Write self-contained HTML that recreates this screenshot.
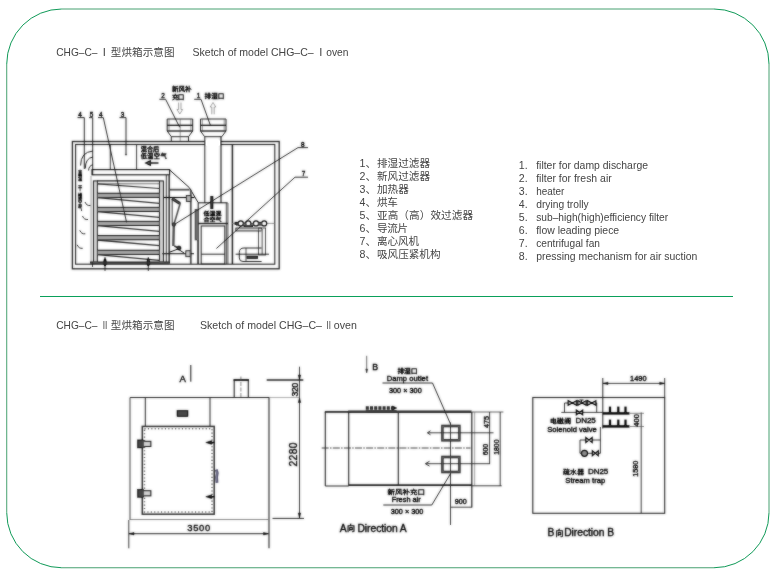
<!DOCTYPE html>
<html lang="zh">
<head>
<meta charset="utf-8">
<title>CHG-C oven sketch</title>
<style>
html,body{margin:0;padding:0;background:#fff;}
body{width:781px;height:577px;overflow:hidden;}
svg{display:block;}
.t{font-family:"Liberation Sans","Noto Sans CJK SC",sans-serif;fill:#444;}
.d{font-family:"Liberation Sans","Noto Sans CJK SC",sans-serif;fill:#1a1a1a;}
.b{font-family:"Liberation Sans","Noto Sans CJK SC",sans-serif;fill:#1a1a1a;stroke:#1a1a1a;stroke-width:0.35;}
</style>
</head>
<body>
<svg width="781" height="577" viewBox="0 0 781 577">
<defs>
<filter id="bl" x="-5%" y="-5%" width="110%" height="110%" color-interpolation-filters="sRGB"><feGaussianBlur stdDeviation="0.8" result="b"/><feComposite in="SourceGraphic" in2="b" operator="arithmetic" k1="0" k2="0.55" k3="0.65" k4="0"/></filter>
<filter id="bt" x="-5%" y="-5%" width="110%" height="110%" color-interpolation-filters="sRGB"><feGaussianBlur stdDeviation="0.8" result="b"/><feComposite in="SourceGraphic" in2="b" operator="arithmetic" k1="0" k2="0.5" k3="0.7" k4="0"/></filter>
</defs>
<rect width="781" height="577" fill="#fff"/>

<path d="M61.72 9.0 H714.0 M769.0 64.0 V512.75 M714.0 567.75 H61.72 M6.72 512.75 V64.0" fill="none" stroke="#18894b" stroke-width="0.8"/><path d="M6.72 64.0 A55 55 0 0 1 61.72 9.0 M714.0 9.0 A55 55 0 0 1 769.0 64.0 M769.0 512.75 A55 55 0 0 1 714.0 567.75 M61.72 567.75 A55 55 0 0 1 6.72 512.75" fill="none" stroke="#109a58" stroke-width="1"/>
<line x1="40" y1="296.5" x2="733" y2="296.5" stroke="#0aa05a" stroke-width="1"/>
<g style="opacity:0.999">
<text class="t" x="56.2" y="56.4" font-size="11.2" textLength="41.3" lengthAdjust="spacingAndGlyphs">CHG–C–</text>
<text class="t" x="102.7" y="56.4" font-size="11.2">I</text>
<text class="t" x="110.8" y="56.199999999999996" font-size="10.6" textLength="63.7">型烘箱示意图</text>
<text class="t" x="192.5" y="56.4" font-size="11.2" textLength="121.19999999999999" lengthAdjust="spacingAndGlyphs">Sketch of model CHG–C–</text>
<text class="t" x="319.3" y="56.4" font-size="11.2">I</text>
<text class="t" x="326.2" y="56.4" font-size="11.2" textLength="22.2" lengthAdjust="spacingAndGlyphs">oven</text>
<text class="t" x="56.2" y="329.3" font-size="11.2" textLength="41.3" lengthAdjust="spacingAndGlyphs">CHG–C–</text>
<text class="t" x="102.8" y="329.3" font-size="11.2" textLength="4.6" lengthAdjust="spacingAndGlyphs">II</text>
<text class="t" x="110.8" y="329.1" font-size="10.6" textLength="63.7">型烘箱示意图</text>
<text class="t" x="200" y="329.3" font-size="11.2" textLength="122" lengthAdjust="spacingAndGlyphs">Sketch of model CHG–C–</text>
<text class="t" x="326.6" y="329.3" font-size="11.2" textLength="4.4" lengthAdjust="spacingAndGlyphs">II</text>
<text class="t" x="333.8" y="329.3" font-size="11.2" textLength="23" lengthAdjust="spacingAndGlyphs">oven</text>
<text class="t" x="359.5" y="166.9" font-size="10.6">1、</text>
<text class="t" x="377" y="166.9" font-size="10.6" textLength="53.0">排湿过滤器</text>
<text class="t" x="359.5" y="179.9" font-size="10.6">2、</text>
<text class="t" x="377" y="179.9" font-size="10.6" textLength="53.0">新风过滤器</text>
<text class="t" x="359.5" y="192.8" font-size="10.6">3、</text>
<text class="t" x="377" y="192.8" font-size="10.6" textLength="31.8">加热器</text>
<text class="t" x="359.5" y="205.8" font-size="10.6">4、</text>
<text class="t" x="377" y="205.8" font-size="10.6" textLength="20.8">烘车</text>
<text class="t" x="359.5" y="218.7" font-size="10.6">5、</text>
<text class="t" x="377" y="218.7" font-size="10.6" textLength="96.0">亚高（高）效过滤器</text>
<text class="t" x="359.5" y="231.7" font-size="10.6">6、</text>
<text class="t" x="377" y="231.7" font-size="10.6" textLength="31.0">导流片</text>
<text class="t" x="359.5" y="244.7" font-size="10.6">7、</text>
<text class="t" x="377" y="244.7" font-size="10.6" textLength="42.2">离心风机</text>
<text class="t" x="359.5" y="257.6" font-size="10.6">8、</text>
<text class="t" x="377" y="257.6" font-size="10.6" textLength="63.5">吸风压紧机构</text>
<text class="t" x="518.8" y="169.2" font-size="10.6">1.</text>
<text class="t" x="536.2" y="169.2" font-size="10.8" textLength="111.8" lengthAdjust="spacingAndGlyphs">filter for damp discharge</text>
<text class="t" x="518.8" y="182.1" font-size="10.6">2.</text>
<text class="t" x="536.2" y="182.1" font-size="10.8" textLength="75.5" lengthAdjust="spacingAndGlyphs">filter for fresh air</text>
<text class="t" x="518.8" y="195.1" font-size="10.6">3.</text>
<text class="t" x="536.2" y="195.1" font-size="10.8" textLength="28.2" lengthAdjust="spacingAndGlyphs">heater</text>
<text class="t" x="518.8" y="208.0" font-size="10.6">4.</text>
<text class="t" x="536.2" y="208.0" font-size="10.8" textLength="52.5" lengthAdjust="spacingAndGlyphs">drying trolly</text>
<text class="t" x="518.8" y="220.9" font-size="10.6">5.</text>
<text class="t" x="536.2" y="220.9" font-size="10.8" textLength="132.0" lengthAdjust="spacingAndGlyphs">sub–high(high)efficiency filter</text>
<text class="t" x="518.8" y="233.8" font-size="10.6">6.</text>
<text class="t" x="536.2" y="233.8" font-size="10.8" textLength="83.0" lengthAdjust="spacingAndGlyphs">flow leading piece</text>
<text class="t" x="518.8" y="246.8" font-size="10.6">7.</text>
<text class="t" x="536.2" y="246.8" font-size="10.8" textLength="63.8" lengthAdjust="spacingAndGlyphs">centrifugal fan</text>
<text class="t" x="518.8" y="259.7" font-size="10.6">8.</text>
<text class="t" x="536.2" y="259.7" font-size="10.8" textLength="161.2" lengthAdjust="spacingAndGlyphs">pressing mechanism for air suction</text>
</g>
<g filter="url(#bl)" stroke-linecap="butt">
<rect x="72.4" y="141.5" width="206.8" height="127.3" stroke="#3c3c3c" stroke-width="1.3" fill="none" />
<rect x="75.6" y="144.5" width="199.2" height="119.7" stroke="#3c3c3c" stroke-width="1.1" fill="none" />
<path d="M167.2 131 V119 H192.7 V131" stroke="#3c3c3c" stroke-width="1" fill="none" />
<line x1="167.2" y1="125.3" x2="192.7" y2="125.3" stroke="#2a2a2a" stroke-width="1.3" />
<line x1="167.2" y1="131" x2="192.7" y2="131" stroke="#2a2a2a" stroke-width="1.3" />
<line x1="169.0" y1="119" x2="169.0" y2="131" stroke="#666" stroke-width="0.6" />
<line x1="190.89999999999998" y1="119" x2="190.89999999999998" y2="131" stroke="#666" stroke-width="0.6" />
<path d="M167.2 131 L171.3 136.7 M192.7 131 L188.5 136.7" stroke="#3c3c3c" stroke-width="1" fill="none" />
<line x1="171.3" y1="136.7" x2="188.5" y2="136.7" stroke="#3c3c3c" stroke-width="1" />
<path d="M200.5 131 V119 H226 V131" stroke="#3c3c3c" stroke-width="1" fill="none" />
<line x1="200.5" y1="125.3" x2="226" y2="125.3" stroke="#2a2a2a" stroke-width="1.3" />
<line x1="200.5" y1="131" x2="226" y2="131" stroke="#2a2a2a" stroke-width="1.3" />
<line x1="202.3" y1="119" x2="202.3" y2="131" stroke="#666" stroke-width="0.6" />
<line x1="224.2" y1="119" x2="224.2" y2="131" stroke="#666" stroke-width="0.6" />
<path d="M200.5 131 L204.6 136.7 M226 131 L221.8 136.7" stroke="#3c3c3c" stroke-width="1" fill="none" />
<line x1="204.6" y1="136.7" x2="221.8" y2="136.7" stroke="#3c3c3c" stroke-width="1" />
<line x1="171.3" y1="136.7" x2="171.3" y2="141.5" stroke="#3c3c3c" stroke-width="1" />
<line x1="188.5" y1="136.7" x2="188.5" y2="141.5" stroke="#3c3c3c" stroke-width="1" />
<line x1="180.2" y1="119" x2="180.2" y2="141" stroke="#666" stroke-width="0.6" />
<rect x="205.3" y="139.5" width="15.2" height="7" stroke="none" stroke-width="0" fill="#fff" />
<line x1="204.8" y1="136.7" x2="204.8" y2="203" stroke="#3c3c3c" stroke-width="1" />
<line x1="221" y1="136.7" x2="221" y2="203" stroke="#2a2a2a" stroke-width="1.1" />
<line x1="110.3" y1="145" x2="110.3" y2="169.5" stroke="#3c3c3c" stroke-width="0.9" />
<line x1="136.6" y1="145" x2="136.6" y2="169.5" stroke="#3c3c3c" stroke-width="0.9" />
<line x1="232.4" y1="145" x2="232.4" y2="264" stroke="#3c3c3c" stroke-width="1.5" />
<line x1="227.9" y1="203" x2="227.9" y2="264" stroke="#3c3c3c" stroke-width="0.8" />
<line x1="226.3" y1="203" x2="226.3" y2="264" stroke="#3c3c3c" stroke-width="0.8" />
<rect x="92" y="169.6" width="77.6" height="5.2" stroke="#2a2a2a" stroke-width="1.1" fill="none" />
<line x1="91" y1="176" x2="91" y2="262" stroke="#888" stroke-width="0.7" />
<rect x="93.4" y="180.9" width="3.9" height="81" stroke="#333" stroke-width="0.9" fill="#b5b5b5" />
<rect x="159.4" y="180.9" width="4" height="81" stroke="#333" stroke-width="0.9" fill="#b5b5b5" />
<line x1="97" y1="180.9" x2="159.5" y2="180.9" stroke="#333" stroke-width="1.2" />
<line x1="97.4" y1="183.8" x2="159.3" y2="183.8" stroke="#666" stroke-width="0.8" />
<line x1="97.4" y1="183.8" x2="159.3" y2="188.5" stroke="#444" stroke-width="1.2" />
<line x1="166.3" y1="175" x2="166.3" y2="262" stroke="#3c3c3c" stroke-width="0.9" />
<line x1="169.2" y1="175" x2="169.2" y2="262" stroke="#555" stroke-width="1.6" />
<rect x="97.4" y="193.20000000000002" width="61.9" height="4.2" stroke="#333" stroke-width="0.9" fill="#8c8c8c" />
<line x1="97.4" y1="197.60000000000002" x2="159.3" y2="203.3" stroke="#444" stroke-width="1.3" />
<rect x="97.4" y="207.3" width="61.9" height="4.2" stroke="#333" stroke-width="0.9" fill="#8c8c8c" />
<line x1="97.4" y1="211.70000000000002" x2="159.3" y2="217.4" stroke="#444" stroke-width="1.3" />
<rect x="97.4" y="221.3" width="61.9" height="4.2" stroke="#333" stroke-width="0.9" fill="#8c8c8c" />
<line x1="97.4" y1="225.70000000000002" x2="159.3" y2="231.4" stroke="#444" stroke-width="1.3" />
<rect x="97.4" y="235.6" width="61.9" height="4.2" stroke="#333" stroke-width="0.9" fill="#8c8c8c" />
<line x1="97.4" y1="240.0" x2="159.3" y2="245.7" stroke="#444" stroke-width="1.3" />
<rect x="97.4" y="250.20000000000002" width="61.9" height="4.2" stroke="#333" stroke-width="0.9" fill="#8c8c8c" />
<line x1="97.4" y1="254.60000000000002" x2="159.3" y2="260.3" stroke="#444" stroke-width="1.3" />
<line x1="90" y1="262.6" x2="170" y2="262.6" stroke="#444" stroke-width="2.2" />
<ellipse cx="105" cy="262.3" rx="1.5" ry="4" fill="#222"/>
<line x1="105" y1="257" x2="105" y2="271" stroke="#2a2a2a" stroke-width="0.8" />
<ellipse cx="148.3" cy="262.3" rx="1.5" ry="4" fill="#222"/>
<line x1="148.3" y1="257" x2="148.3" y2="271" stroke="#2a2a2a" stroke-width="0.8" />
<line x1="92.5" y1="262" x2="92.5" y2="267" stroke="#2a2a2a" stroke-width="0.8" />
<path d="M80.6 165.5 Q80.6 152 93 151" stroke="#3c3c3c" stroke-width="1" fill="none" />
<path d="M85.3 168.5 Q85.3 158 93 157" stroke="#3c3c3c" stroke-width="1" fill="none" />
<path d="M88.6 170.5 Q88.8 165.5 93 164.8" stroke="#3c3c3c" stroke-width="1" fill="none" />
<path d="M85.0 202.0 Q86.5 206.0 90.5 205.5" stroke="#3c3c3c" stroke-width="1" fill="none" />
<path d="M82.5 216.0 Q84 220.0 88 219.5" stroke="#3c3c3c" stroke-width="1" fill="none" />
<path d="M79.8 230.3 Q81.3 234.3 85.3 233.8" stroke="#3c3c3c" stroke-width="1" fill="none" />
<path d="M77.2 244.8 Q78.7 248.8 82.7 248.3" stroke="#3c3c3c" stroke-width="1" fill="none" />
<path d="M169.6 169.9 L189.3 187.6 L198.2 202.7" stroke="#2a2a2a" stroke-width="1" fill="none" />
<line x1="169.6" y1="189.7" x2="189.6" y2="189.7" stroke="#666" stroke-width="1.8" />
<line x1="190.8" y1="189.7" x2="190.8" y2="264" stroke="#666" stroke-width="1.8" />
<line x1="163.8" y1="197.5" x2="194.5" y2="197.5" stroke="#222" stroke-width="1.1" />
<rect x="186.3" y="195.5" width="4.5" height="6" stroke="#3c3c3c" stroke-width="0.8" fill="#999" />
<path d="M172 198.5 L180 203.5" stroke="#444" stroke-width="3" fill="none" />
<line x1="172.2" y1="200" x2="172.2" y2="224" stroke="#3c3c3c" stroke-width="0.9" />
<path d="M173.8 224.6 L173.3 246" stroke="#666" stroke-width="2.4" fill="none" />
<path d="M180.3 203 L174.2 223.5" stroke="#666" stroke-width="1.6" fill="none" />
<path d="M174.3 246 L178.5 248" stroke="#444" stroke-width="1.4" fill="none" />
<circle cx="173.8" cy="224.6" r="1.8" stroke="#2a2a2a" stroke-width="0.5" fill="#444"/>
<circle cx="179" cy="248" r="2.1" stroke="#2a2a2a" stroke-width="0.5" fill="#333"/>
<path d="M170 252 L178 249 L184 253" stroke="#2a2a2a" stroke-width="1" fill="none" />
<line x1="162" y1="253.7" x2="194" y2="253.7" stroke="#333" stroke-width="1.1" />
<rect x="185.8" y="250.7" width="4.2" height="6" stroke="#3c3c3c" stroke-width="0.8" fill="#aaa" />
<line x1="196.1" y1="209" x2="196.1" y2="240.3" stroke="#666" stroke-width="2.8" />
<line x1="197.8" y1="240" x2="197.8" y2="264" stroke="#3c3c3c" stroke-width="0.8" />
<path d="M198.2 264 V202.8 H227.6" stroke="#2a2a2a" stroke-width="1" fill="none" />
<line x1="198.2" y1="223.5" x2="228" y2="223.5" stroke="#3c3c3c" stroke-width="1.4" />
<rect x="201.2" y="226" width="23.6" height="38" stroke="#3c3c3c" stroke-width="1" fill="none" />
<line x1="201.2" y1="254.2" x2="224.8" y2="254.2" stroke="#3c3c3c" stroke-width="1" />
<line x1="211.8" y1="196" x2="211.8" y2="209" stroke="#333" stroke-width="3" />
<line x1="232" y1="223.4" x2="274.5" y2="223.4" stroke="#888" stroke-width="0.8" />
<line x1="236" y1="224.6" x2="266" y2="224.6" stroke="#666" stroke-width="2.2" />
<circle cx="240.8" cy="223.4" r="2.5" stroke="#2a2a2a" stroke-width="1.2" fill="#ddd"/>
<circle cx="248.3" cy="223.4" r="2.5" stroke="#2a2a2a" stroke-width="1.2" fill="#ddd"/>
<circle cx="256" cy="223.4" r="2.5" stroke="#2a2a2a" stroke-width="1.2" fill="#ddd"/>
<circle cx="264.2" cy="223.4" r="2.5" stroke="#2a2a2a" stroke-width="1.2" fill="#ddd"/>
<line x1="234.6" y1="223.4" x2="238" y2="223.4" stroke="#333" stroke-width="3" />
<line x1="243.6" y1="226" x2="253" y2="226" stroke="#333" stroke-width="2" />
<line x1="258.6" y1="223.4" x2="261.5" y2="223.4" stroke="#444" stroke-width="3" />
<rect x="235.8" y="228" width="25.6" height="3" stroke="#3c3c3c" stroke-width="0.8" fill="#bbb" />
<rect x="258.6" y="228" width="7" height="27" stroke="#3c3c3c" stroke-width="0.8" fill="none" />
<line x1="262.2" y1="229" x2="262.2" y2="255" stroke="#999" stroke-width="1.6" />
<path d="M261.6 248 H244 Q239.3 248 239.3 252.5 V258 Q239.3 261.5 243 261.5 H261.6" stroke="#3c3c3c" stroke-width="1" fill="none" />
<line x1="246" y1="248" x2="246" y2="261" stroke="#3c3c3c" stroke-width="0.8" />
<line x1="235.6" y1="254.2" x2="269" y2="254.2" stroke="#2a2a2a" stroke-width="0.9" />
<line x1="246.5" y1="257.3" x2="258" y2="257.3" stroke="#3a3a3a" stroke-width="3.2" />
<path d="M77.5 117.6 H84.3 V169" stroke="#2a2a2a" stroke-width="0.9" fill="none" />
<path d="M89 117.6 H92.7 V175" stroke="#2a2a2a" stroke-width="0.9" fill="none" />
<path d="M98 117.6 H103.3 L126.6 222.5" stroke="#2a2a2a" stroke-width="0.9" fill="none" />
<path d="M119.5 117.6 H126 V154.3" stroke="#2a2a2a" stroke-width="0.9" fill="none" />
<circle cx="126" cy="154.6" r="0.7" stroke="#2a2a2a" stroke-width="0.3" fill="#2a2a2a"/>
<path d="M159.4 99.3 H165.6 L179.7 127.3" stroke="#2a2a2a" stroke-width="0.9" fill="none" />
<path d="M194.2 99.3 H201 L210.4 125.3" stroke="#2a2a2a" stroke-width="0.9" fill="none" />
<path d="M308 147.6 H298 L174.5 224.4" stroke="#2a2a2a" stroke-width="0.9" fill="none" />
<path d="M308 177.2 H295 L216.4 248.5" stroke="#2a2a2a" stroke-width="0.9" fill="none" />
<path d="M178.6 102.5 V109.5 H177 L179.8 114 L182.6 109.5 H181 V102.5" stroke="#888" stroke-width="0.7" fill="none" />
<path d="M211.8 114.3 V107 H210.2 L213 102.5 L215.8 107 H214.2 V114.3" stroke="#888" stroke-width="0.7" fill="none" />
<path d="M158.5 163 H149 M150.3 160.8 L145.8 163 L150.3 165.2 Z" stroke="#333" stroke-width="1.3" fill="#555" />
</g>
<g filter="url(#bt)">
<text class="b" x="78.2" y="116.6" font-size="6.4" >4</text>
<text class="b" x="89.7" y="116.6" font-size="6.4" >5</text>
<text class="b" x="99" y="116.6" font-size="6.4" >4</text>
<text class="b" x="120.7" y="116.6" font-size="6.4" >3</text>
<text class="b" x="161.2" y="98.3" font-size="6.4" >2</text>
<text class="b" x="196.7" y="98.3" font-size="6.4" >1</text>
<text class="b" x="301" y="146.7" font-size="6.4" >8</text>
<text class="b" x="301.7" y="175.6" font-size="6.4" >7</text>
<text class="b" font-size="6.6" stroke-width="0.4" transform="translate(171.9 90.6) scale(1 0.8)" textLength="19.7">新风补</text>
<text class="b" font-size="6.6" stroke-width="0.4" transform="translate(171.9 98.9) scale(1 0.8)" textLength="12.5">充口</text>
<text class="b" font-size="6.6" stroke-width="0.4" transform="translate(204.6 98.4) scale(1 0.8)" textLength="19.8">排湿口</text>
<text class="b" font-size="6.2" stroke-width="0.3" transform="translate(140.8 151.3) scale(1 0.85)" textLength="18.5">混合后</text>
<text class="b" font-size="6.2" stroke-width="0.3" transform="translate(140.8 158.3) scale(1 0.85)" textLength="25.8">低温空气</text>
<text class="b" font-size="6" stroke-width="0.4" transform="translate(203.5 214.8) scale(1 0.85)">低温混</text>
<text class="b" font-size="6" stroke-width="0.4" transform="translate(203.5 221.4) scale(1 0.85)">合空气</text>
<text class="b" font-size="5.8" stroke-width="0.6" transform="translate(77.9 174.6) scale(0.72 0.9)">高</text>
<text class="b" font-size="5.8" stroke-width="0.6" transform="translate(77.9 180.2) scale(0.72 0.9)">温</text>
<text class="b" font-size="5.8" stroke-width="0.6" transform="translate(77.9 189.6) scale(0.72 0.9)">干</text>
<text class="b" font-size="5.8" stroke-width="0.6" transform="translate(77.9 198.1) scale(0.72 0.9)">燥</text>
<text class="b" font-size="5.8" stroke-width="0.6" transform="translate(77.9 204.1) scale(0.72 0.9)">空</text>
<text class="b" font-size="5.8" stroke-width="0.6" transform="translate(77.9 209.79999999999998) scale(0.72 0.9)">气</text>
</g>
<g filter="url(#bl)" stroke-linecap="butt">
<path d="M130 397.5 H269 V548.3" stroke="#3c3c3c" stroke-width="1.1" fill="none" />
<line x1="130" y1="397.5" x2="130" y2="520" stroke="#666" stroke-width="1.1" />
<line x1="130" y1="519.5" x2="269" y2="519.5" stroke="#888" stroke-width="0.9" />
<line x1="128.8" y1="520" x2="128.8" y2="548.3" stroke="#3c3c3c" stroke-width="0.9" />
<line x1="145.3" y1="397.5" x2="145.3" y2="426" stroke="#3c3c3c" stroke-width="1" />
<line x1="210" y1="397.5" x2="210" y2="426" stroke="#3c3c3c" stroke-width="1" />
<rect x="142.3" y="426.4" width="71.9" height="87.8" stroke="#4a4a4a" stroke-width="1.5" fill="none" />
<rect x="144.5" y="428.7" width="67.5" height="83.2" stroke="#777" stroke-width="1.5" fill="none" stroke-dasharray="1.1 2.3"/>
<rect x="177" y="410.3" width="11" height="6.4" stroke="#2a2a2a" stroke-width="0.5" fill="#3a3a3a" />
<line x1="190.8" y1="365" x2="190.8" y2="381.7" stroke="#2a2a2a" stroke-width="1" />
<path d="M234.2 397.5 V380 H248.3 V397.5" stroke="#3c3c3c" stroke-width="1.1" fill="none" />
<line x1="233.5" y1="380" x2="249" y2="380" stroke="#2a2a2a" stroke-width="1.6" />
<line x1="240.9" y1="376.5" x2="240.9" y2="397.5" stroke="#666" stroke-width="0.7" stroke-dasharray="4 1.5"/>
<line x1="266.7" y1="380" x2="303.3" y2="380" stroke="#3c3c3c" stroke-width="1.4" />
<line x1="299.5" y1="366.7" x2="299.5" y2="518" stroke="#3c3c3c" stroke-width="0.9" />
<line x1="269.7" y1="397.5" x2="300" y2="397.5" stroke="#888" stroke-width="0.6" />
<line x1="272.5" y1="518.4" x2="304" y2="518.4" stroke="#3c3c3c" stroke-width="1" />
<path d="M299.5 518 L298.3 513 L300.7 513 Z" stroke="#2a2a2a" stroke-width="0.5" fill="#2a2a2a" />
<path d="M299.5 397.5 L298.3 402.5 L300.7 402.5 Z" stroke="#2a2a2a" stroke-width="0.5" fill="#2a2a2a" />
<path d="M299.5 380 L298.3 375 L300.7 375 Z" stroke="#2a2a2a" stroke-width="0.5" fill="#2a2a2a" />
<rect x="137.5" y="439.9" width="5.8" height="8" stroke="#2a2a2a" stroke-width="0.5" fill="#3a3a3a" />
<rect x="143.3" y="441.29999999999995" width="7.6" height="5.2" stroke="#3c3c3c" stroke-width="1" fill="#b0b0b0" />
<rect x="137.5" y="489.3" width="5.8" height="8" stroke="#2a2a2a" stroke-width="0.5" fill="#3a3a3a" />
<rect x="143.3" y="490.7" width="7.6" height="5.2" stroke="#3c3c3c" stroke-width="1" fill="#b0b0b0" />
<path d="M205.8 442.5 L211.5 440.7 L211.5 444.3 Z" stroke="#2a2a2a" stroke-width="0.6" fill="#222" />
<line x1="211" y1="442.5" x2="214.5" y2="442.5" stroke="#222" stroke-width="1.4" />
<path d="M205.8 496.7 L211.5 494.9 L211.5 498.5 Z" stroke="#2a2a2a" stroke-width="0.6" fill="#222" />
<line x1="211" y1="496.7" x2="214.5" y2="496.7" stroke="#222" stroke-width="1.4" />
<path d="M216.3 469.5 L217.3 473 L216.6 477 L217 482.8" stroke="#707088" stroke-width="2.8" fill="none" />
<line x1="128.8" y1="533.7" x2="268.5" y2="533.7" stroke="#3c3c3c" stroke-width="1" />
<path d="M129 533.7 L134 532.5 L134 534.9 Z" stroke="#2a2a2a" stroke-width="0.5" fill="#2a2a2a" />
<path d="M268.5 533.7 L263.5 532.5 L263.5 534.9 Z" stroke="#2a2a2a" stroke-width="0.5" fill="#2a2a2a" />
<line x1="324.8" y1="411.9" x2="349" y2="411.9" stroke="#4a4a4a" stroke-width="1.9" />
<line x1="348.2" y1="411.8" x2="471.6" y2="411.8" stroke="#4a4a4a" stroke-width="2.6" />
<line x1="471.6" y1="412" x2="503.4" y2="412" stroke="#666" stroke-width="0.9" />
<line x1="325.3" y1="412" x2="325.3" y2="486" stroke="#3c3c3c" stroke-width="1.1" />
<line x1="325.3" y1="486" x2="348.7" y2="486" stroke="#3c3c3c" stroke-width="1" />
<line x1="348.7" y1="485.2" x2="472" y2="485.2" stroke="#3c3c3c" stroke-width="1.8" />
<line x1="348.7" y1="412" x2="348.7" y2="486" stroke="#3c3c3c" stroke-width="1.1" />
<line x1="398.3" y1="412" x2="398.3" y2="486" stroke="#3c3c3c" stroke-width="1.1" />
<line x1="471.8" y1="412" x2="471.8" y2="507.5" stroke="#3c3c3c" stroke-width="1.2" />
<line x1="474.7" y1="412" x2="474.7" y2="485.5" stroke="#888" stroke-width="0.7" />
<line x1="321.7" y1="448" x2="470.5" y2="448" stroke="#444" stroke-width="0.9" stroke-dasharray="7 1.3 1.5 1.3"/>
<line x1="366.7" y1="355.8" x2="366.7" y2="372.5" stroke="#555" stroke-width="0.8" />
<path d="M366.7 373 L365.7 369 L367.7 369 Z" stroke="#444" stroke-width="0.4" fill="#444" />
<path d="M382.5 383 H432.5 L450.5 424" stroke="#2a2a2a" stroke-width="0.9" fill="none" />
<line x1="365.8" y1="408" x2="393" y2="408" stroke="#444" stroke-width="3.6" stroke-dasharray="3 1.2"/>
<line x1="365.8" y1="411" x2="396.7" y2="411" stroke="#2a2a2a" stroke-width="1" />
<path d="M396.7 408 L392.5 406 L392.5 410 Z" stroke="#2a2a2a" stroke-width="0.6" fill="#2a2a2a" />
<rect x="442.4" y="426" width="17" height="14.3" stroke="#555" stroke-width="2.6" fill="none" />
<rect x="442.4" y="457" width="17" height="15" stroke="#555" stroke-width="2.6" fill="none" />
<line x1="450.5" y1="422.4" x2="450.5" y2="525" stroke="#3c3c3c" stroke-width="0.9" />
<line x1="428" y1="432.8" x2="493.5" y2="432.8" stroke="#3c3c3c" stroke-width="0.9" />
<line x1="426" y1="463.7" x2="490" y2="463.7" stroke="#3c3c3c" stroke-width="0.9" />
<path d="M430.5 430.8 L427.3 432.8 L430.5 434.8" stroke="#3c3c3c" stroke-width="0.9" fill="none" />
<path d="M429.5 461.3 L425.3 463.7 L429.5 466.1" stroke="#3c3c3c" stroke-width="0.9" fill="none" />
<line x1="489.6" y1="412" x2="489.6" y2="464" stroke="#3c3c3c" stroke-width="0.9" />
<line x1="500.2" y1="412" x2="500.2" y2="486" stroke="#3c3c3c" stroke-width="0.9" />
<line x1="472" y1="485.8" x2="501.7" y2="485.8" stroke="#3c3c3c" stroke-width="0.9" />
<line x1="450.5" y1="507.2" x2="471.8" y2="507.2" stroke="#3c3c3c" stroke-width="0.9" />
<path d="M383.3 505 H431.8 L450.3 474" stroke="#2a2a2a" stroke-width="0.9" fill="none" />
<rect x="532.8" y="397.5" width="131.9" height="115.8" stroke="#3c3c3c" stroke-width="1.1" fill="none" />
<line x1="602.8" y1="378" x2="602.8" y2="428.5" stroke="#3c3c3c" stroke-width="1" />
<line x1="602.8" y1="383.4" x2="664.7" y2="383.4" stroke="#3c3c3c" stroke-width="0.9" />
<line x1="664.7" y1="378" x2="664.7" y2="397.5" stroke="#3c3c3c" stroke-width="0.9" />
<path d="M603 383.4 L608 382.2 L608 384.6 Z" stroke="#2a2a2a" stroke-width="0.5" fill="#2a2a2a" />
<path d="M664.7 383.4 L659.7 382.2 L659.7 384.6 Z" stroke="#2a2a2a" stroke-width="0.5" fill="#2a2a2a" />
<line x1="641.2" y1="412.5" x2="641.2" y2="513" stroke="#3c3c3c" stroke-width="0.9" />
<line x1="630" y1="413.3" x2="644" y2="413.3" stroke="#666" stroke-width="0.7" />
<line x1="630" y1="426.5" x2="644" y2="426.5" stroke="#666" stroke-width="0.7" />
<path d="M564.5 412.4 V403 H596.7 V412.4" stroke="#3c3c3c" stroke-width="0.9" fill="none" />
<line x1="561.3" y1="412.4" x2="602.8" y2="412.4" stroke="#3c3c3c" stroke-width="0.9" />
<path d="M568.0999999999999 400.6 L576.5 405.4 V400.6 L568.0999999999999 405.4 Z" stroke="#222" stroke-width="1.1" fill="#999" />
<path d="M577.8 400.6 L586.2 405.4 V400.6 L577.8 405.4 Z" stroke="#222" stroke-width="1.1" fill="#999" />
<path d="M587.5 400.6 L595.9000000000001 405.4 V400.6 L587.5 405.4 Z" stroke="#222" stroke-width="1.1" fill="#999" />
<line x1="581.5" y1="400" x2="581.5" y2="403" stroke="#2a2a2a" stroke-width="0.9" />
<line x1="579.5" y1="400" x2="583.5" y2="400" stroke="#2a2a2a" stroke-width="0.9" />
<path d="M576.3 410.0 L582.7 414.79999999999995 V410.0 L576.3 414.79999999999995 Z" stroke="#222" stroke-width="1.1" fill="#999" />
<line x1="602.8" y1="413.4" x2="629.5" y2="413.4" stroke="#222" stroke-width="2.4" />
<line x1="610" y1="406.59999999999997" x2="610" y2="413.4" stroke="#222" stroke-width="2.2" />
<line x1="618.3" y1="406.59999999999997" x2="618.3" y2="413.4" stroke="#222" stroke-width="2.2" />
<line x1="625.5" y1="406.59999999999997" x2="625.5" y2="413.4" stroke="#222" stroke-width="2.2" />
<line x1="602.8" y1="426.4" x2="629.5" y2="426.4" stroke="#222" stroke-width="2.4" />
<line x1="610" y1="419.59999999999997" x2="610" y2="426.4" stroke="#222" stroke-width="2.2" />
<line x1="618.3" y1="419.59999999999997" x2="618.3" y2="426.4" stroke="#222" stroke-width="2.2" />
<line x1="625.5" y1="419.59999999999997" x2="625.5" y2="426.4" stroke="#222" stroke-width="2.2" />
<path d="M600.4 427 V453.3 H580 V440 H600.4" stroke="#3c3c3c" stroke-width="0.9" fill="none" />
<path d="M585.8 437.4 L592.2 442.6 V437.4 L585.8 442.6 Z" stroke="#222" stroke-width="1.1" fill="#999" />
<path d="M592.3 450.7 L598.3 455.90000000000003 V450.7 L592.3 455.90000000000003 Z" stroke="#222" stroke-width="1.1" fill="#999" />
<circle cx="584.5" cy="453.3" r="3" stroke="#2a2a2a" stroke-width="1.2" fill="#777"/>
</g>
<g filter="url(#bt)">
<text class="b" x="179.6" y="382.4" font-size="9.6" stroke-width="0.5">A</text>
<text class="b" x="372.3" y="369.6" font-size="8.8" >B</text>
<text class="b" x="187.2" y="531.4" font-size="9.4" textLength="23" stroke-width="0.5">3500</text>
<text class="b" stroke-width="0.6" font-size="8.6" transform="translate(298 396.5) rotate(-90)" textLength="13.8">320</text>
<text class="b" stroke-width="0.7" font-size="10.3" transform="translate(296.8 466.5) rotate(-90)" textLength="24">2280</text>
<text class="b" font-size="6.8" stroke-width="0.4" transform="translate(397.5 372.6) scale(1 0.82)" textLength="20">排湿口</text>
<text class="b" x="386.7" y="380.8" font-size="7.6" textLength="41.3" >Damp outlet</text>
<text class="b" x="389" y="392.6" font-size="7.3" textLength="32.7" >300 × 300</text>
<text class="b" font-size="7.5" stroke-width="0.4" transform="translate(387.5 494) scale(1 0.8)" textLength="37.5">新风补充口</text>
<text class="b" x="391.7" y="502.2" font-size="7.4" textLength="29" >Fresh air</text>
<text class="b" x="390.8" y="513.8" font-size="7.3" textLength="32.5" >300 × 300</text>
<text class="b" x="454.7" y="504.3" font-size="7.2" textLength="12" >900</text>
<text class="b" font-size="7.2" transform="translate(488.5 428) rotate(-90)" textLength="12">475</text>
<text class="b" font-size="7" transform="translate(488 455.3) rotate(-90)" textLength="11.5">600</text>
<text class="b" font-size="6.9" transform="translate(499 454.8) rotate(-90)" textLength="15.3">1800</text>
<text class="b" x="339.7" y="532" font-size="10.3" stroke-width="0.5">A</text>
<text class="b" x="347" y="531.4" font-size="8" >向</text>
<text class="b" x="357.5" y="532" font-size="10.3" textLength="49.2" stroke-width="0.5">Direction A</text>
<text class="b" x="547.5" y="536.2" font-size="10.3" stroke-width="0.5">B</text>
<text class="b" x="555.6" y="535.6" font-size="8" >向</text>
<text class="b" x="564.2" y="536.2" font-size="10.3" textLength="50" stroke-width="0.5">Direction B</text>
<text class="b" x="630" y="381.2" font-size="7.4" textLength="16.5" >1490</text>
<text class="b" font-size="7.5" transform="translate(639 426.8) rotate(-90)" textLength="12.7">400</text>
<text class="b" font-size="7.2" transform="translate(638.3 476.7) rotate(-90)" textLength="16">1580</text>
<text class="b" font-size="6.8" stroke-width="0.4" transform="translate(550 422.8) scale(1 0.82)" textLength="21">电磁阀</text>
<text class="b" x="575.6" y="423.2" font-size="8" textLength="20.2" >DN25</text>
<text class="b" x="547.3" y="432" font-size="7.6" textLength="49.4" >Solenoid valve</text>
<text class="b" font-size="6.8" stroke-width="0.4" transform="translate(563 473.8) scale(1 0.82)" textLength="21">疏水器</text>
<text class="b" x="588" y="474.2" font-size="8" textLength="20.3" >DN25</text>
<text class="b" x="565.3" y="482.6" font-size="7.6" textLength="40" >Stream trap</text>
</g>
</svg>
</body>
</html>
